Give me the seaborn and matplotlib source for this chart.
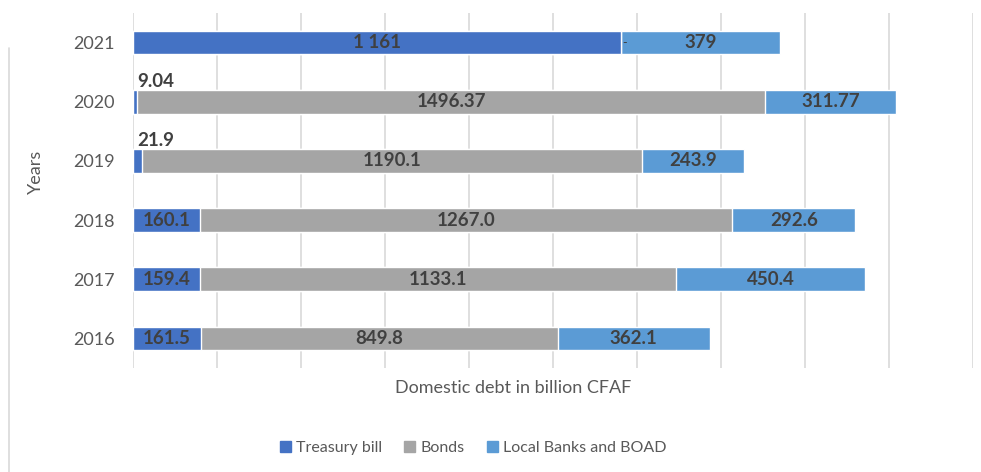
import matplotlib
matplotlib.use("Agg")
import matplotlib.pyplot as plt
import matplotlib.lines as mlines
import matplotlib.patches as mpatches
import numpy as np
import pandas as pd
import seaborn as sns

# Domestic debt by instrument, billion CFAF
years = ["2021", "2020", "2019", "2018", "2017", "2016"]
treasury_bill = [1161, 9.04, 21.9, 160.1, 159.4, 161.5]
bonds = [0, 1496.37, 1190.1, 1267.0, 1133.1, 849.8]
local_banks = [379, 311.77, 243.9, 292.6, 450.4, 362.1]

treasury_labels = ["1 161", "9.04", "21.9", "160.1", "159.4", "161.5"]
bonds_labels = ["-", "1496.37", "1190.1", "1267.0", "1133.1", "849.8"]
local_labels = ["379", "311.77", "243.9", "292.6", "450.4", "362.1"]

series_names = ["Treasury bill", "Bonds", "Local Banks and BOAD"]
colors = ["#4472C4", "#A5A5A5", "#5B9BD5"]

df = pd.DataFrame({
    "year": years,
    "treasury": treasury_bill,
    "bonds": bonds,
    "local": local_banks,
})
df["cum_tb"] = df["treasury"]
df["cum_bonds"] = df["treasury"] + df["bonds"]
df["cum_total"] = df["cum_bonds"] + df["local"]

sns.set_theme(style="white")
plt.rcParams["font.family"] = ["Lato", "DejaVu Sans"]

fig = plt.figure(figsize=(9.81, 4.72), dpi=100)
ax = fig.add_axes([133 / 981, 1 - 368 / 472, 840 / 981, 355 / 472])

# stacked bars drawn as overlapping cumulative totals
for col, color in zip(["cum_total", "cum_bonds", "cum_tb"], colors[::-1]):
    sns.barplot(data=df, x=col, y="year", order=years, orient="h",
                color=color, width=0.4, saturation=1, ax=ax, zorder=3)

ax.set_xlim(0, 2000)
ax.set_ylim(5.5, -0.5)
ax.set_xticks(np.arange(0, 2001, 200))
ax.set_xticklabels([])
ax.grid(axis="x", color="#d9d9d9", linewidth=1.2, zorder=0)
ax.grid(axis="y", visible=False)
for s in ax.spines.values():
    s.set_visible(False)
ax.tick_params(axis="both", length=0)
ax.tick_params(axis="y", labelsize=13, labelcolor="#595959", pad=13)
ax.set_xlabel("")
ax.set_ylabel("")

label_kw = dict(fontsize=13.5, fontweight="bold", color="#404040", zorder=5)
for i, year in enumerate(years):
    tb, bd, lc = treasury_bill[i], bonds[i], local_banks[i]
    if tb < 60:
        ax.annotate(treasury_labels[i], xy=(0, i - 0.2), xytext=(3, 0),
                    textcoords="offset points", ha="left", va="bottom", **label_kw)
    else:
        ax.text(tb / 2, i, treasury_labels[i], ha="center", va="center", **label_kw)
    if bd == 0:
        ax.annotate(bonds_labels[i], xy=(tb, i), xytext=(1, 0), textcoords="offset points",
                    ha="left", va="center", fontsize=9, color="#404040", zorder=5)
    else:
        ax.text(tb + bd / 2, i, bonds_labels[i], ha="center", va="center", **label_kw)
    ax.text(tb + bd + lc / 2, i, local_labels[i], ha="center", va="center", **label_kw)

fig.text(513 / 981, 1 - 388 / 472, "Domestic debt in billion CFAF",
         ha="center", va="center", fontsize=13, color="#595959")
fig.text(36 / 981, 1 - 172 / 472, "Years", rotation=90,
         ha="center", va="center", fontsize=13, color="#595959")

handles = [mpatches.Patch(color=c, label=n) for c, n in zip(colors, series_names)]
fig.legend(handles=handles, loc="center", bbox_to_anchor=(473 / 981, 1 - 448 / 472),
           ncol=3, frameon=False, fontsize=11.5, labelcolor="#595959",
           handlelength=0.7, handleheight=0.7, handletextpad=0.3, columnspacing=1.4)

# light frame line on the left
fig.add_artist(mlines.Line2D([9 / 981, 9 / 981], [0, 1 - 48 / 472],
                             color="#d9d9d9", linewidth=1.2))

fig.savefig("out.png", dpi=100)
